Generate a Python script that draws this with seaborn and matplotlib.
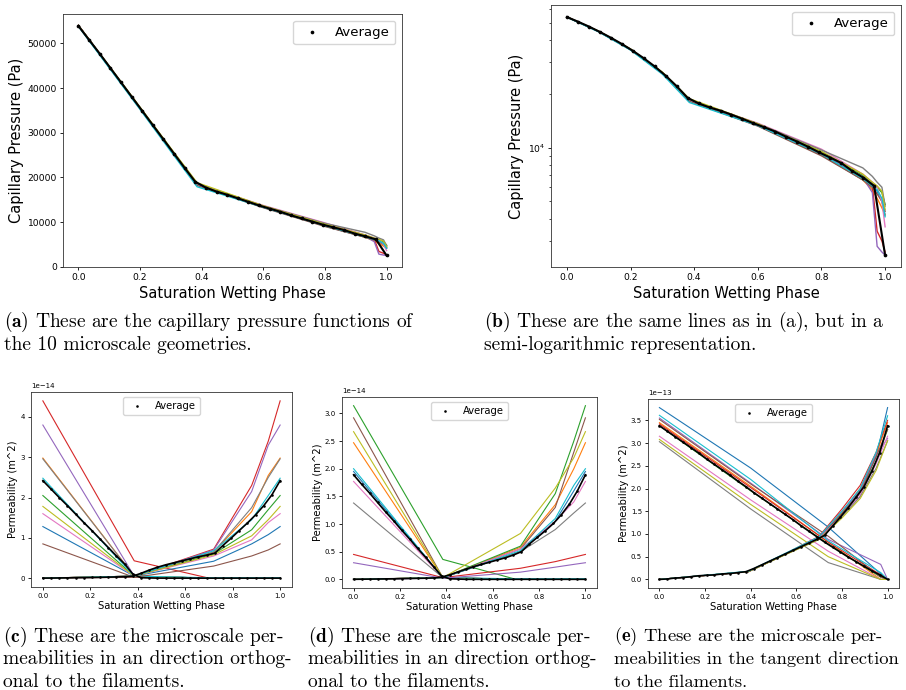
import matplotlib
matplotlib.use("Agg")
import matplotlib.pyplot as plt
import seaborn as sns
import numpy as np

# colours of the 10 microscale geometries (matplotlib default cycle)
colors = sns.color_palette("tab10", 10)

# sample points of the average curves
sw_avg = np.linspace(0, 1, 30)

# ---- capillary pressure (Pa) ----
pc_avg = [53900, 50800, 47700, 44500, 41300, 38100, 34900, 31700, 28500, 25300,
          22100, 19000, 17700, 16800, 16100, 15300, 14500, 13700, 13000, 12300,
          11500, 10800, 10100, 9400, 8800, 8200, 7400, 6800, 6100, 2500]
pc_sw = [0, 0.1, 0.2, 0.3, 0.385, 0.6, 0.8, 0.93, 0.96, 0.975, 0.99, 1.0]
pc_lines = [
    [54000, 44700, 35500, 26200, 18300, 13300, 9100, 6600, 6000, 5700, 5000, 4200],
    [54000, 44750, 35500, 26250, 18400, 13400, 9200, 6600, 5800, 5200, 4600, 4200],
    [54000, 44800, 35550, 26300, 18500, 13500, 9500, 7000, 6300, 6000, 5600, 4800],
    [54000, 44750, 35500, 26250, 18400, 13300, 9200, 6700, 6100, 3400, 3000, 2600],
    [54000, 44750, 35500, 26250, 18400, 13400, 9300, 6800, 5600, 2800, 2600, 2500],
    [54000, 44700, 35400, 26100, 18200, 13200, 9000, 6600, 6000, 5500, 5000, 4400],
    [54000, 44800, 35550, 26300, 18500, 13700, 9800, 7100, 6400, 6000, 5000, 3600],
    [54000, 44800, 35550, 26300, 18500, 13600, 9700, 7700, 6900, 6400, 6000, 4700],
    [54000, 44900, 35700, 26500, 18800, 13600, 9500, 7100, 6400, 6100, 5700, 4500],
    [53800, 44500, 35200, 25800, 17900, 13300, 9200, 6700, 6100, 5800, 5200, 4100],
]

# ---- permeability orthogonal (c), units 1e-14 m^2 ----
kc_avg_dec = [2.42, 2.21, 2.0, 1.8, 1.59, 1.38, 1.18, 0.97, 0.76, 0.55, 0.35, 0.1,
              0.01, 0.005, 0, 0, 0, 0, 0, 0, 0, 0, 0, 0, 0, 0, 0, 0, 0, 0]
kc_avg_inc = [0, 0.002, 0.005, 0.008, 0.01, 0.013, 0.016, 0.02, 0.025, 0.03, 0.035, 0.05,
              0.12, 0.2, 0.27, 0.33, 0.38, 0.43, 0.48, 0.53, 0.57, 0.62,
              0.81, 0.99, 1.18, 1.37, 1.57, 1.8, 2.07, 2.42]
kc_sw_dec = [0, 0.385, 0.7, 1.0]
kc_dec = [
    [1.28, 0.05, 0, 0], [2.98, 0.05, 0, 0], [2.05, 0.05, 0, 0], [4.4, 0.43, 0, 0],
    [3.8, 0.05, 0, 0], [0.85, 0.02, 0, 0], [1.6, 0.05, 0, 0], [2.96, 0.05, 0, 0],
    [1.78, 0.05, 0, 0], [2.48, 0.05, 0.01, 0.01],
]
kc_sw_inc = [0, 0.385, 0.72, 0.88, 0.95, 1.0]
kc_inc = [
    [0, 0.05, 0.42, 0.85, 1.08, 1.28],
    [0, 0.05, 0.65, 1.65, 2.55, 2.98],
    [0, 0.05, 0.6, 1.2, 1.7, 2.05],
    [0, 0.05, 0.72, 2.3, 3.4, 4.4],
    [0, 0.05, 0.7, 2.15, 3.3, 3.8],
    [0, 0.02, 0.3, 0.55, 0.7, 0.85],
    [0, 0.05, 0.55, 0.95, 1.38, 1.6],
    [0, 0.05, 0.65, 1.75, 2.5, 2.96],
    [0, 0.05, 0.58, 1.05, 1.45, 1.78],
    [0, 0.05, 0.68, 1.45, 2.05, 2.48],
]

# ---- permeability orthogonal (d), units 1e-14 m^2 ----
kd_avg_dec = [1.89, 1.72, 1.56, 1.39, 1.22, 1.06, 0.89, 0.73, 0.56, 0.4, 0.23, 0.06,
              0.01, 0.005, 0, 0, 0, 0, 0, 0, 0, 0, 0, 0, 0, 0, 0, 0, 0, 0]
kd_avg_inc = [0, 0.002, 0.004, 0.006, 0.008, 0.01, 0.012, 0.015, 0.018, 0.02, 0.025, 0.04,
              0.08, 0.13, 0.18, 0.23, 0.27, 0.31, 0.35, 0.39, 0.44, 0.5,
              0.64, 0.76, 0.88, 1.01, 1.17, 1.36, 1.6, 1.89]
kd_sw_dec = [0, 0.385, 0.7, 1.0]
kd_dec = [
    [1.95, 0.03, 0, 0], [2.47, 0.03, 0, 0], [3.14, 0.36, 0, 0], [0.45, 0.03, 0, 0],
    [0.3, 0.02, 0, 0], [2.92, 0.03, 0, 0], [1.77, 0.03, 0, 0], [1.38, 0.03, 0, 0],
    [2.67, 0.03, 0, 0], [2.0, 0.03, 0.01, 0.01],
]
kd_sw_inc = [0, 0.385, 0.72, 0.87, 0.95, 1.0]
kd_inc = [
    [0, 0.03, 0.5, 1.05, 1.6, 1.95],
    [0, 0.03, 0.58, 1.35, 2.0, 2.47],
    [0, 0.03, 0.6, 1.55, 2.5, 3.14],
    [0, 0.03, 0.2, 0.32, 0.4, 0.45],
    [0, 0.02, 0.13, 0.22, 0.27, 0.3],
    [0, 0.03, 0.55, 1.3, 2.3, 2.92],
    [0, 0.03, 0.55, 1.05, 1.4, 1.77],
    [0, 0.03, 0.5, 0.9, 1.2, 1.38],
    [0, 0.03, 0.83, 1.65, 2.2, 2.67],
    [0, 0.03, 0.52, 1.1, 1.7, 2.0],
]

# ---- permeability tangent (e), units 1e-13 m^2 ----
ke_avg_dec = [3.38, 3.26, 3.14, 3.02, 2.9, 2.78, 2.65, 2.53, 2.41, 2.29, 2.16, 2.04,
              1.91, 1.79, 1.67, 1.55, 1.43, 1.31, 1.18, 1.06, 0.94, 0.82, 0.71, 0.6,
              0.49, 0.39, 0.29, 0.19, 0.1, 0.0]
ke_avg_inc = [0, 0.01, 0.03, 0.04, 0.06, 0.08, 0.09, 0.1, 0.12, 0.13, 0.15, 0.17,
              0.24, 0.32, 0.4, 0.48, 0.56, 0.64, 0.72, 0.8, 0.88, 0.97,
              1.17, 1.37, 1.58, 1.81, 2.04, 2.38, 2.79, 3.38]
ke_sw_dec = [0, 0.4, 0.74, 0.97, 1.0]
ke_dec = [
    [3.78, 2.45, 1.15, 0.12, 0.0],
    [3.45, 2.05, 0.82, 0.0, 0.0],
    [3.38, 1.95, 0.78, 0.05, 0.0],
    [3.42, 2.02, 0.82, 0.1, 0.0],
    [3.55, 2.12, 0.88, 0.33, 0.0],
    [3.52, 2.1, 0.95, 0.05, 0.0],
    [3.15, 1.75, 0.62, 0.0, 0.0],
    [3.03, 1.55, 0.37, 0.0, 0.0],
    [3.08, 1.65, 0.5, 0.0, 0.0],
    [3.61, 2.2, 0.85, 0.15, 0.0],
]
ke_sw_inc = [0, 0.39, 0.55, 0.7, 0.8, 0.88, 0.95, 1.0]
ke_inc = [
    [0, 0.17, 0.56, 0.93, 1.45, 1.98, 2.7, 3.78],
    [0, 0.17, 0.55, 0.92, 1.47, 2.0, 2.75, 3.45],
    [0, 0.17, 0.55, 0.9, 1.42, 1.92, 2.6, 3.3],
    [0, 0.17, 0.56, 0.95, 1.55, 2.07, 2.8, 3.5],
    [0, 0.17, 0.55, 0.92, 1.5, 1.95, 2.75, 3.1],
    [0, 0.17, 0.55, 0.9, 1.45, 1.9, 2.7, 3.3],
    [0, 0.17, 0.55, 0.9, 1.4, 1.85, 2.55, 3.15],
    [0, 0.17, 0.54, 0.88, 1.38, 1.82, 2.45, 3.05],
    [0, 0.17, 0.54, 0.88, 1.35, 1.78, 2.4, 3.05],
    [0, 0.18, 0.57, 0.94, 1.5, 2.0, 2.8, 3.6],
]

captions = {
    "a": ["($\\mathbf{a}$) These are the capillary pressure functions of",
          "the 10 microscale geometries."],
    "b": ["($\\mathbf{b}$) These are the same lines as in (a), but in a",
          "semi-logarithmic representation."],
    "c": ["($\\mathbf{c}$) These are the microscale per-",
          "meabilities in an direction orthog-",
          "onal to the filaments."],
    "d": ["($\\mathbf{d}$) These are the microscale per-",
          "meabilities in an direction orthog-",
          "onal to the filaments."],
    "e": ["($\\mathbf{e}$) These are the microscale per-",
          "meabilities in the tangent direction",
          "to the filaments."],
}

plt.rcParams["mathtext.fontset"] = "cm"

fig = plt.figure(figsize=(9.06, 6.90), dpi=100)
W, H = 906, 690


def add_ax(l, t, r, b):
    return fig.add_axes([l / W, 1 - b / H, (r - l) / W, (b - t) / H])


def style(ax, tick_fs, lab_fs, ylabel, pad):
    ax.set_xlabel("Saturation Wetting Phase", fontsize=lab_fs, labelpad=pad)
    ax.set_ylabel(ylabel, fontsize=lab_fs, labelpad=pad)
    ax.tick_params(labelsize=tick_fs, length=2.4, width=0.6, pad=2)
    ax.tick_params(which="minor", length=1.4, width=0.5)
    ax.yaxis.get_offset_text().set_fontsize(tick_fs)
    for s in ax.spines.values():
        s.set_linewidth(0.6)
        s.set_color("#333333")


def draw_pc(ax, log):
    for c, ys in zip(colors, pc_lines):
        sns.lineplot(x=pc_sw, y=ys, color=c, linewidth=1.0, ax=ax, legend=False)
    sns.lineplot(x=sw_avg, y=pc_avg, color="black", linewidth=1.5, ax=ax, legend=False)
    sns.scatterplot(x=sw_avg, y=pc_avg, color="black", s=7, linewidth=0,
                    label="Average", ax=ax, zorder=5)
    if log:
        ax.set_yscale("log")
    ax.set_xticks([0, 0.2, 0.4, 0.6, 0.8, 1.0])
    style(ax, 6.6, 10.5, "Capillary Pressure (Pa)", 2.5)
    ax.legend(loc="upper right", fontsize=9.5, handletextpad=0.8, borderpad=0.4)


def draw_k(ax, sw_dec, dec, sw_inc, inc, avg_dec, avg_inc, scale):
    for c, ys in zip(colors, dec):
        sns.lineplot(x=sw_dec, y=np.array(ys) * scale, color=c, linewidth=0.8,
                     ax=ax, legend=False)
    for c, ys in zip(colors, inc):
        sns.lineplot(x=sw_inc, y=np.array(ys) * scale, color=c, linewidth=0.8,
                     ax=ax, legend=False)
    for i, ys in enumerate([avg_dec, avg_inc]):
        yv = np.array(ys) * scale
        sns.lineplot(x=sw_avg, y=yv, color="black", linewidth=1.2, ax=ax, legend=False)
        sns.scatterplot(x=sw_avg, y=yv, color="black", s=3.5, linewidth=0,
                        label="Average" if i == 0 else None, ax=ax, zorder=5)
    ax.set_xticks([0, 0.2, 0.4, 0.6, 0.8, 1.0])
    style(ax, 5.0, 7.2, "Permeability (m^2)", 1.5)
    ax.legend(loc="upper center", fontsize=7.2, handletextpad=0.8, borderpad=0.4)


ax_a = add_ax(63, 14, 402, 267)
draw_pc(ax_a, False)
ax_b = add_ax(551, 5, 901, 267)
draw_pc(ax_b, True)

ax_c = add_ax(31, 392, 292, 587)
draw_k(ax_c, kc_sw_dec, kc_dec, kc_sw_inc, kc_inc, kc_avg_dec, kc_avg_inc, 1e-14)
ax_d = add_ax(342, 397, 597, 588)
draw_k(ax_d, kd_sw_dec, kd_dec, kd_sw_inc, kd_inc, kd_avg_dec, kd_avg_inc, 1e-14)
ax_e = add_ax(648, 399, 899, 588)
draw_k(ax_e, ke_sw_dec, ke_dec, ke_sw_inc, ke_inc, ke_avg_dec, ke_avg_inc, 1e-13)

# captions below the panels
cap_pos = {"a": (4, 322, 14), "b": (484, 322, 14), "c": (3, 637, 14),
           "d": (308, 637, 14), "e": (614, 637, 13.4)}
for key, (x0, y0, fs) in cap_pos.items():
    for j, line in enumerate(captions[key]):
        fig.text(x0 / W, 1 - (y0 + 22.5 * j) / H, line, fontfamily="cmr10",
                 fontsize=fs, va="center", ha="left")

fig.savefig("out.png", dpi=100)
